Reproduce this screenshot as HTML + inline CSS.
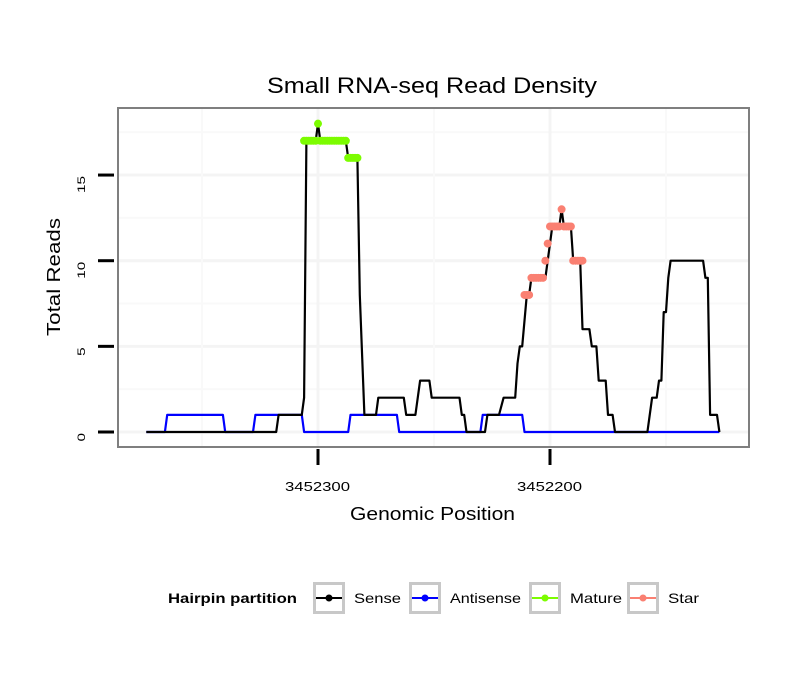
<!DOCTYPE html>
<html><head><meta charset="utf-8"><style>
body{margin:0;background:#fff}
svg text{font-family:"Liberation Sans",Arial,sans-serif}
</style></head><body>
<svg id="chart" width="810" height="690" xmlns="http://www.w3.org/2000/svg">
<rect width="810" height="690" fill="#fff"/>
<text x="267" y="93" font-size="22" textLength="330" lengthAdjust="spacingAndGlyphs">Small RNA-seq Read Density</text>
<g id="grid"></g>
<g id="series"></g>
<rect x="118" y="108" width="631" height="339" fill="none" stroke="#7f7f7f" stroke-width="2"/>
<g id="axes"></g>
<text x="350" y="520" font-size="18" textLength="165" lengthAdjust="spacingAndGlyphs">Genomic Position</text>
<text transform="translate(60,336) rotate(-90)" font-size="18" textLength="118" lengthAdjust="spacingAndGlyphs">Total Reads</text>
<g id="legend">
<text x="168" y="603" font-size="14" font-weight="bold" textLength="129" lengthAdjust="spacingAndGlyphs">Hairpin partition</text>
</g>
</svg>
<script>
const senseX=[3452374,3452318,3452317,3452307,3452306,3452305,3452301,3452300,3452299,3452288,3452287,3452283,3452282,3452280,3452275,3452274,3452263,3452262,3452258,3452256,3452252,3452251,3452239,3452238,3452237,3452236,3452228,3452227,3452222,3452220,3452215,3452214,3452213,3452212,3452210,3452209,3452208,3452202,3452201,3452200,3452199,3452196,3452195,3452194,3452191,3452190,3452187,3452186,3452183,3452182,3452180,3452179,3452176,3452175,3452173,3452172,3452158,3452156,3452154,3452153,3452152,3452151,3452150,3452149,3452148,3452134,3452133,3452132,3452131,3452128,3452127];
const senseY=[0,0,1,1,2,17,17,18,17,17,16,16,8,1,1,2,2,1,1,3,3,2,2,1,1,0,0,1,1,2,2,4,5,5,8,8,9,9,10,11,12,12,13,12,12,10,10,6,6,5,5,3,3,1,1,0,0,2,2,3,3,7,7,9,10,10,9,9,1,1,0];
const antiX=[3452374,3452366,3452365,3452341,3452340,3452328,3452327,3452307,3452306,3452287,3452286,3452266,3452265,3452230,3452229,3452212,3452211,3452127];
const antiY=[0,0,1,1,0,0,1,1,0,0,1,1,0,0,1,1,0,0];
const matureX=[3452306,3452305,3452304,3452303,3452302,3452301,3452300,3452299,3452298,3452297,3452296,3452295,3452294,3452293,3452292,3452291,3452290,3452289,3452288,3452287,3452286,3452285,3452284,3452283];
const matureY=[17,17,17,17,17,17,18,17,17,17,17,17,17,17,17,17,17,17,17,16,16,16,16,16];
const starX=[3452211,3452210,3452209,3452208,3452207,3452206,3452205,3452204,3452203,3452202,3452201,3452200,3452199,3452198,3452197,3452196,3452195,3452194,3452193,3452192,3452191,3452190,3452189,3452188,3452187,3452186];
const starY=[8,8,8,9,9,9,9,9,9,10,11,12,12,12,12,12,13,12,12,12,12,10,10,10,10,10];
const yTicks=[0,5,10,15];
const xTicks=[3452300,3452200];
const xTickLabels=["3452300","3452200"];
const xMinor=[3452350,3452250,3452150];
const yMinor=[2.5,7.5,12.5,17.5];

const NS="http://www.w3.org/2000/svg";
function sx(p){return 318+(3452300-p)*2.32;}
function sy(v){return 432-v*17.13;}
function mk(tag,attrs,parent){const e=document.createElementNS(NS,tag);for(const k in attrs)e.setAttribute(k,attrs[k]);parent.appendChild(e);return e;}
const grid=document.getElementById('grid'),ser=document.getElementById('series'),axes=document.getElementById('axes'),leg=document.getElementById('legend');
yMinor.forEach(v=>{const l=mk('line',{x1:119,x2:748,y1:sy(v),y2:sy(v),stroke:'#f9f9f9','stroke-width':2},grid);

});
yTicks.forEach(v=>{const l=mk('line',{x1:119,x2:748,y1:sy(v),y2:sy(v),stroke:'#f4f4f4','stroke-width':3},grid);

});
xMinor.forEach(p=>{const l=mk('line',{x1:sx(p),x2:sx(p),y1:109,y2:446,stroke:'#f9f9f9','stroke-width':2},grid);

});
xTicks.forEach(p=>{const l=mk('line',{x1:sx(p),x2:sx(p),y1:109,y2:446,stroke:'#f4f4f4','stroke-width':3},grid);

});
function path(xs,ys,col,name){const d=xs.map((x,i)=>(i?'L':'M')+sx(x).toFixed(1)+','+sy(ys[i]).toFixed(1)).join('');
const p=mk('path',{d:d,fill:'none',stroke:col,'stroke-width':2.2,'stroke-linejoin':'round'},ser);

}
path(antiX,antiY,'#0000ff','antisense-line');
path(senseX,senseY,'#000','sense-line');
matureX.forEach((x,i)=>{const c=mk('circle',{cx:sx(x),cy:sy(matureY[i]),r:4,fill:'#7cfc00'},ser);

});
starX.forEach((x,i)=>{const c=mk('circle',{cx:sx(x),cy:sy(starY[i]),r:4,fill:'#fa8072'},ser);

});
yTicks.forEach(v=>{const t=mk('line',{x1:98,x2:114,y1:sy(v),y2:sy(v),stroke:'#000','stroke-width':3},axes);


const s=String(v);
const tx=mk('text',{transform:'translate(85,'+(sy(v)+1)+') rotate(-90)','font-size':11,'text-anchor':'end',textLength:s.length*8.5,lengthAdjust:'spacingAndGlyphs'},axes);tx.textContent=s;

});
xTicks.forEach((p,i)=>{const t=mk('line',{x1:sx(p),x2:sx(p),y1:449,y2:465,stroke:'#000','stroke-width':3},axes);


const tx=mk('text',{x:sx(p)-33,y:491,'font-size':13,textLength:65,lengthAdjust:'spacingAndGlyphs'},axes);tx.textContent=xTickLabels[i];

});
const legNames=['Sense','Antisense','Mature','Star'];
const legCols=['#000','#0000ff','#7cfc00','#fa8072'];
const legKeyX=[313,409,529,627];
const legW=[47,71,52,31];
legNames.forEach((n,i)=>{const g=mk('g',{},leg);


const x=legKeyX[i];
mk('rect',{x:x+1.5,y:583.5,width:29,height:29,fill:'#fff',stroke:'#c8c8c8','stroke-width':3},g);
mk('line',{x1:x+3,x2:x+29,y1:598,y2:598,stroke:legCols[i],'stroke-width':2},g);
mk('circle',{cx:x+16,cy:598,r:3.5,fill:legCols[i]},g);
const t=mk('text',{x:x+41,y:603,'font-size':14,textLength:legW[i],lengthAdjust:'spacingAndGlyphs'},g);t.textContent=n;});
</script>
</body></html>
